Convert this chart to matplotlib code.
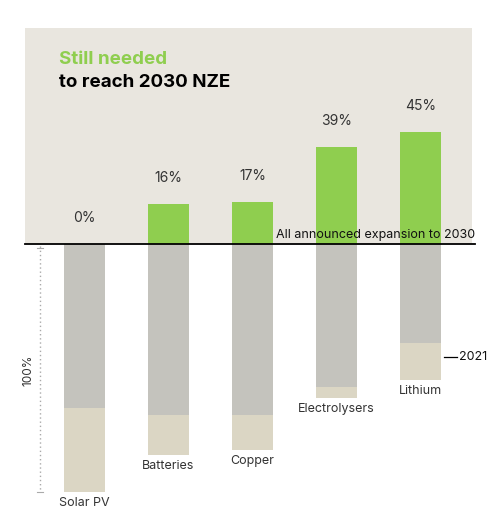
import numpy as np
import matplotlib.pyplot as plt

categories = ['Solar PV', 'Batteries', 'Copper', 'Electrolysers', 'Lithium']
needed = [0, 16, 17, 39, 45]          # still needed to reach 2030 NZE, %
announced = [100, 85, 83, 62, 55]     # all announced expansion to 2030, %
base_2021 = [34, 16, 14, 4.5, 15]     # 2021 capacity, % (part of announced)

green = '#8fce4f'
grey = '#c4c3bd'
tan = '#dbd6c4'
bg = '#e9e6df'

plt.rcParams['font.family'] = ['Inter', 'DejaVu Sans']

fig = plt.figure(figsize=(5, 5.22), dpi=100)
ax = fig.add_axes([0, 0, 1, 1])
px = 2.48  # pixels per percent
ax.set_xlim(0, 500)
ax.set_ylim(-(522 - 244) / px, 244 / px)
ax.axis('off')

ax.fill_between([25, 472], 0, (244 - 28) / px, color=bg, lw=0, zorder=0)

x = 84.5 + 84 * np.arange(len(categories))
w = 41
announced = np.array(announced)
base = np.array(base_2021)
ax.bar(x, needed, w, color=green, zorder=2)
ax.bar(x, -(announced - base), w, color=grey, zorder=2)
ax.bar(x, -base, w, bottom=-(announced - base), color=tan, zorder=2)
ax.plot([25, 475], [0, 0], color='black', lw=1.3, zorder=3)

for xi, n in zip(x, needed):
    ax.text(xi, n + 9 / px + 10 / px, f'{n}%', ha='center', va='bottom',
            fontsize=10, color='#333333')
for xi, a, c in zip(x, announced, categories):
    ax.text(xi, -a - 5 / px, c, ha='center', va='top', fontsize=9, color='#333333')

ax.text(475, 3 / px, 'All announced expansion to 2030', ha='right', va='bottom',
        fontsize=9, color='#111111', zorder=4)
ax.text(59, (522 - 70) / px - 522 / px + 244 / px + 0, '', fontsize=1)
ax.text(59, (244 - 59) / px, 'Still needed', fontsize=13.5, fontweight='bold',
        color=green, va='center')
ax.text(59, (244 - 82) / px, 'to reach 2030 NZE', fontsize=13.5, fontweight='bold',
        color='black', va='center')

# 2021 marker on lithium
li = x[-1]
ymid = -(announced[-1] - base[-1] / 2) + 2
ax.plot([li + 23, li + 36], [ymid, ymid], color='black', lw=0.9)
ax.text(li + 38, ymid, '2021', va='center', fontsize=9, color='#111111')

# 100% bracket
ax.plot([40, 40], [-1, -100], color='#aaaaaa', lw=1, ls=(0, (1, 2)))
ax.plot([37, 43], [-1.5, -1.5], color='#aaaaaa', lw=0.8)
ax.plot([37, 43], [-100, -100], color='#aaaaaa', lw=0.8)
ax.text(28, -(370 - 244) / px, '100%', rotation=90, ha='center', va='center',
        fontsize=8.5, color='#333333')

fig.savefig('out.png', dpi=100, facecolor='white')
